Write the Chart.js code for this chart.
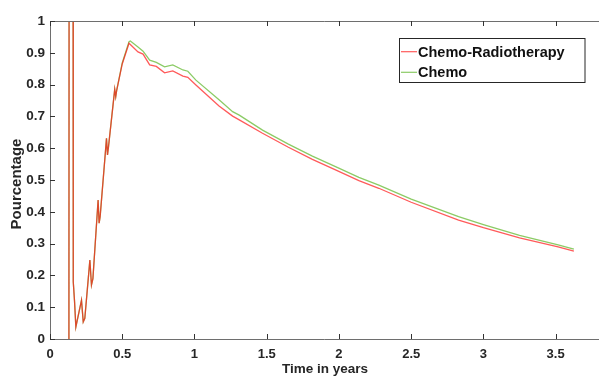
<!DOCTYPE html>
<html>
<head>
<meta charset="utf-8">
<script src="https://cdn.jsdelivr.net/npm/chart.js@4.4.1/dist/chart.umd.min.js"></script>
<style>
  html, body { margin: 0; padding: 0; background: #fff; }
  #wrap { width: 599px; height: 376px; position: relative; }
</style>
</head>
<body>
<div id="wrap"><canvas id="chart" width="599" height="376"></canvas></div>
<script>
// time axis (years) shared by both curves
const TIME = [0.131, 0.132, 0.160, 0.161, 0.170, 0.179, 0.218, 0.230, 0.241, 0.276, 0.287, 0.297,
  0.333, 0.340, 0.347, 0.379, 0.391, 0.398, 0.405, 0.448, 0.455, 0.462, 0.500, 0.547, 0.556,
  0.609, 0.644, 0.690, 0.736, 0.793, 0.850, 0.920, 0.954, 1.010, 1.170, 1.264, 1.310, 1.471,
  1.650, 1.816, 1.980, 2.138, 2.276, 2.500, 2.828, 3.000, 3.250, 3.517, 3.626];

const CHEMO_RADIO = [0, 1, 1, 0.18, 0.117, 0.038, 0.122, 0.054, 0.065, 0.248, 0.170, 0.190,
  0.437, 0.364, 0.385, 0.563, 0.631, 0.579, 0.605, 0.785, 0.762, 0.783, 0.865, 0.930, 0.926,
  0.903, 0.896, 0.862, 0.857, 0.837, 0.843, 0.827, 0.823, 0.799, 0.733, 0.701, 0.689, 0.647,
  0.603, 0.565, 0.531, 0.498, 0.474, 0.430, 0.374, 0.350, 0.318, 0.290, 0.276];

const CHEMO = [0, 1, 1, 0.18, 0.117, 0.038, 0.122, 0.054, 0.065, 0.248, 0.170, 0.190,
  0.437, 0.364, 0.385, 0.563, 0.631, 0.579, 0.605, 0.785, 0.762, 0.783, 0.868, 0.935, 0.937,
  0.918, 0.905, 0.877, 0.870, 0.856, 0.862, 0.846, 0.842, 0.814, 0.752, 0.715, 0.704, 0.657,
  0.613, 0.575, 0.541, 0.508, 0.484, 0.440, 0.385, 0.360, 0.326, 0.296, 0.283];

const SERIES_LABELS = ['Chemo-Radiotherapy', 'Chemo'];
const X_TICKS = [0, 0.5, 1, 1.5, 2, 2.5, 3, 3.5];
const Y_TICKS = [0, 0.1, 0.2, 0.3, 0.4, 0.5, 0.6, 0.7, 0.8, 0.9, 1];

const FONT = '"Liberation Sans", Arial, Helvetica, sans-serif';
const TXT = '#262626';

const pts = arr => arr.map((v, i) => ({ x: TIME[i], y: v }));

// ── Box, inward ticks, titles and legend ─────────────────────────────────
const matlabAxes = {
  id: 'matlabAxes',
  afterDraw(chart) {
    const { ctx, chartArea: a, scales: { x, y } } = chart;
    ctx.save();
    ctx.strokeStyle = '#6e6e6e';
    ctx.lineWidth = 1;
    ctx.beginPath();
    ctx.moveTo(a.left + 0.5, a.top + 0.5);
    ctx.lineTo(a.left + 0.5, a.bottom + 0.5);
    ctx.lineTo(a.right, a.bottom + 0.5);
    ctx.moveTo(a.left + 0.5, a.top + 0.5);
    ctx.lineTo(a.right, a.top + 0.5);
    ctx.stroke();

    ctx.strokeStyle = '#333';
    ctx.beginPath();
    X_TICKS.forEach(v => {
      const px = Math.round(x.getPixelForValue(v)) + 0.5;
      ctx.moveTo(px, a.bottom); ctx.lineTo(px, a.bottom - 5);
      ctx.moveTo(px, a.top); ctx.lineTo(px, a.top + 5);
    });
    Y_TICKS.forEach(v => {
      const py = Math.round(y.getPixelForValue(v)) + 0.5;
      ctx.moveTo(a.left, py); ctx.lineTo(a.left + 5, py);
    });
    ctx.stroke();

    // axis titles
    ctx.fillStyle = TXT;
    ctx.textAlign = 'center';
    ctx.textBaseline = 'middle';
    ctx.font = 'bold 13.5px ' + FONT;
    ctx.fillText('Time in years', 325, 369);
    ctx.font = 'bold 15px ' + FONT;
    ctx.translate(17, 184);
    ctx.rotate(-Math.PI / 2);
    ctx.fillText('Pourcentage', 0, 0);
    ctx.setTransform(1, 0, 0, 1, 0, 0);

    // legend
    const bx = 399.5, by = 38.5, bw = 185.5, bh = 44;
    ctx.fillStyle = '#fff';
    ctx.fillRect(bx, by, bw, bh);
    ctx.strokeStyle = '#262626';
    ctx.strokeRect(bx, by, bw, bh);
    ctx.font = 'bold 14.5px ' + FONT;
    ctx.textAlign = 'left';
    const rows = [51.7, 72.3];
    chart.data.datasets.forEach((ds, i) => {
      ctx.strokeStyle = ds.borderColor;
      ctx.lineWidth = 1.2;
      ctx.beginPath();
      ctx.moveTo(401, rows[i]); ctx.lineTo(417, rows[i]);
      ctx.stroke();
      ctx.fillStyle = '#111';
      ctx.fillText(ds.label, 418, rows[i] + 1);
    });
    ctx.restore();
  }
};

new Chart(document.getElementById('chart'), {
  type: 'scatter',
  data: {
    datasets: [
      { label: SERIES_LABELS[0], data: pts(CHEMO_RADIO), showLine: true, borderColor: 'rgba(255,20,20,0.7)',
        borderWidth: 1.3, pointRadius: 0, tension: 0 },
      { label: SERIES_LABELS[1], data: pts(CHEMO), showLine: true, borderColor: 'rgba(100,185,50,0.75)',
        borderWidth: 1.3, pointRadius: 0, tension: 0 }
    ]
  },
  options: {
    responsive: false,
    animation: false,
    layout: { padding: { top: 21, right: 0, left: 0, bottom: 0 } },
    plugins: { legend: { display: false }, tooltip: { enabled: false } },
    scales: {
      x: {
        type: 'linear', min: 0, max: 3.8,
        afterFit: s => { s.height = 37; },
        afterBuildTicks: s => { s.ticks = X_TICKS.map(v => ({ value: v })); },
        grid: { display: false, drawTicks: false },
        border: { display: false },
        ticks: { color: TXT, padding: 8, font: { family: FONT, size: 13, weight: 'bold' },
                 callback: v => String(v) }
      },
      y: {
        min: 0, max: 1,
        afterFit: s => { s.width = 50; },
        afterBuildTicks: s => { s.ticks = Y_TICKS.map(v => ({ value: v })); },
        grid: { display: false, drawTicks: false },
        border: { display: false },
        ticks: { color: TXT, padding: 5, font: { family: FONT, size: 13.5, weight: 'bold' },
                 callback: v => String(v) }
      }
    }
  },
  plugins: [matlabAxes]
});
</script>
</body>
</html>
